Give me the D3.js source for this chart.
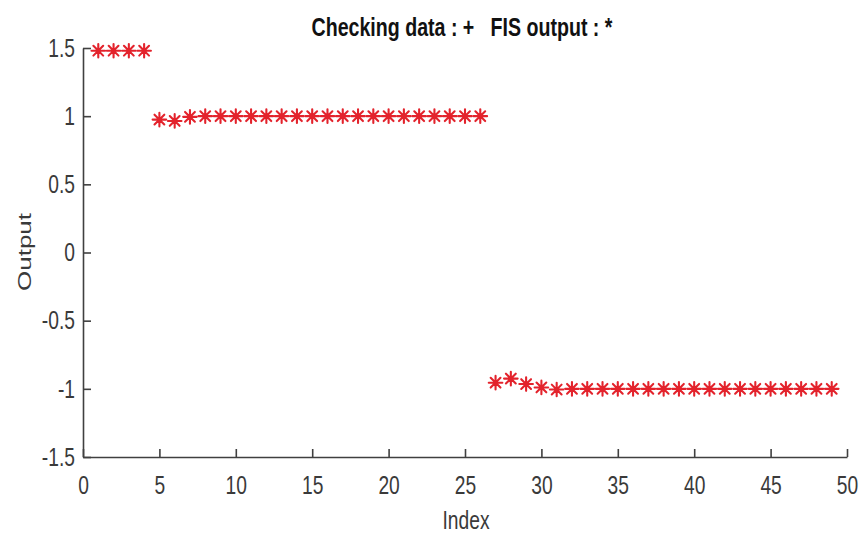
<!DOCTYPE html>
<html>
<head>
<meta charset="utf-8">
<script src="https://cdn.jsdelivr.net/npm/d3@7/dist/d3.min.js"></script>
<style>
  html, body { margin: 0; padding: 0; background: #fff; }
  svg { display: block; }
</style>
</head>
<body>
<svg id="chart" width="862" height="536"></svg>
<script>
const titleText = "Checking data : +   FIS output : *";
const xLabel = "Index";
const yLabel = "Output";
const xTicks = [0, 5, 10, 15, 20, 25, 30, 35, 40, 45, 50];
const yTicks = [-1.5, -1, -0.5, 0, 0.5, 1, 1.5];
const yTickLabels = ["-1.5", "-1", "-0.5", "0", "0.5", "1", "1.5"];
const indexValues = [1, 2, 3, 4, 5, 6, 7, 8, 9, 10, 11, 12, 13, 14, 15, 16, 17, 18, 19, 20,
  21, 22, 23, 24, 25, 26, 27, 28, 29, 30, 31, 32, 33, 34, 35, 36, 37, 38, 39, 40,
  41, 42, 43, 44, 45, 46, 47, 48, 49];
const fisOutput = [1.48, 1.48, 1.48, 1.48,
  0.975, 0.965, 0.995, 1, 1, 1, 1, 1, 1, 1, 1, 1, 1, 1, 1, 1, 1, 1, 1, 1, 1, 1,
  -0.955, -0.925, -0.965, -0.99, -1.005, -1, -1, -1, -1, -1, -1, -1, -1, -1, -1, -1, -1, -1, -1, -1, -1, -1, -1];

const W = 862, H = 536;
const margin = { left: 83, right: 15, top: 48, bottom: 79 };
const axisColor = "#404040";
const textColor = "#3a3a3a";
const starColor = "#e3232c";
const fontFamily = "'Liberation Sans', Arial, Helvetica, sans-serif";
const squeeze = 0.74;

const svg = d3.select("#chart");
const x = d3.scaleLinear().domain([0, 50]).range([margin.left, W - margin.right]);
const y = d3.scaleLinear().domain([-1.5, 1.5]).range([H - margin.bottom, margin.top]);

// X axis
const gx = svg.append("g")
  .attr("transform", `translate(0,${y(-1.5)})`)
  .call(d3.axisBottom(x).tickValues(xTicks).tickSizeInner(-8).tickSizeOuter(0).tickPadding(19).tickFormat(d3.format("d")));
// Y axis
const gy = svg.append("g")
  .attr("transform", `translate(${x(0)},0)`)
  .call(d3.axisLeft(y).tickValues(yTicks).tickSizeInner(-8).tickSizeOuter(0)
    .tickFormat((d, i) => yTickLabels[i]));

[gx, gy].forEach(g => {
  g.select(".domain").attr("stroke", axisColor).attr("stroke-width", 1.6);
  g.selectAll(".tick line").attr("stroke", axisColor).attr("stroke-width", 1.6);
  g.selectAll(".tick text")
    .attr("fill", textColor)
    .style("font-family", fontFamily)
    .style("font-size", "26px");
});
gx.selectAll(".tick text").attr("transform", `scale(${squeeze},1)`);
gy.selectAll(".tick text").attr("x", 0).attr("transform", `translate(-8,0) scale(${squeeze},1)`);

// Stars (asterisk markers)
const r = 6.8;
const rd = r * 0.72;
const starPath = `M${-r},0L${r},0M0,${-r}L0,${r}M${-rd},${-rd}L${rd},${rd}M${-rd},${rd}L${rd},${-rd}`;
svg.append("g").selectAll("path")
  .data(indexValues.map((d, i) => ({ i: d, v: fisOutput[i] })))
  .join("path")
  .attr("transform", d => `translate(${x(d.i)},${y(d.v)})`)
  .attr("d", starPath)
  .attr("fill", "none")
  .attr("stroke", starColor)
  .attr("stroke-width", 2.1)
  .attr("stroke-linecap", "round");

// Title
const title = svg.append("text")
  .attr("text-anchor", "middle")
  .attr("fill", "#111")
  .style("font-family", fontFamily)
  .style("font-weight", "bold")
  .style("font-size", "25px")
  .style("white-space", "pre")
  .attr("xml:space", "preserve")
  .text(titleText);
const tl = title.node().getComputedTextLength();
const ts = 301 / tl;
title.attr("transform", `translate(462,36) scale(${ts},1)`);

// Axis labels
svg.append("text")
  .attr("text-anchor", "middle")
  .attr("fill", textColor)
  .style("font-family", fontFamily)
  .style("font-size", "26px")
  .attr("transform", `translate(466,529) scale(${squeeze},1)`)
  .text(xLabel);

svg.append("text")
  .attr("text-anchor", "middle")
  .attr("fill", textColor)
  .style("font-family", fontFamily)
  .style("font-size", "26px")
  .attr("transform", `translate(31,252) scale(${squeeze},1) rotate(-90)`)
  .text(yLabel);
</script>
</body>
</html>
